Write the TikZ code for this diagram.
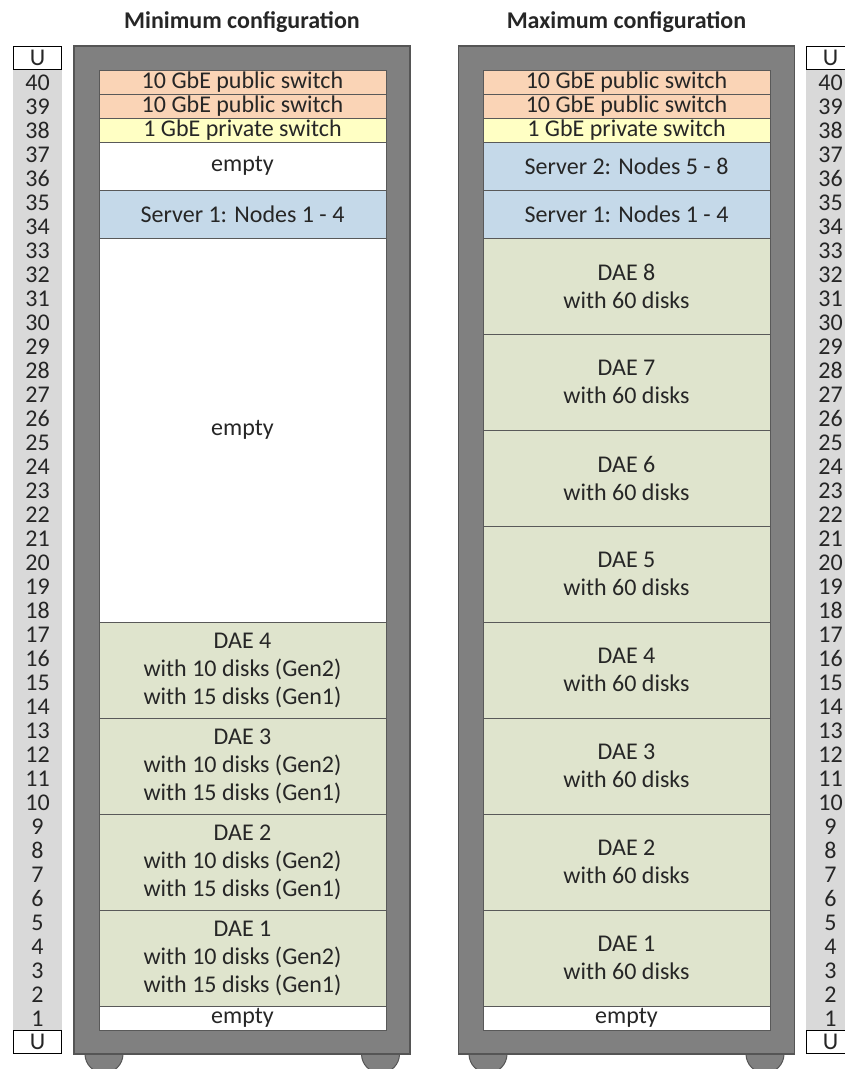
\documentclass[tikz,border=0pt]{standalone}
\usepackage{fontspec}
\setmainfont{Carlito}
\definecolor{txt}{HTML}{262626}
\definecolor{rackg}{HTML}{808080}
\definecolor{rackb}{HTML}{555555}
\definecolor{slotb}{HTML}{595959}
\definecolor{colg}{HTML}{D9D9D9}
\definecolor{swc}{HTML}{FAD4B6}
\definecolor{privc}{HTML}{FFFFC4}
\definecolor{srvc}{HTML}{C5D9E9}
\definecolor{daec}{HTML}{DFE4CD}
\begin{document}
\begin{tikzpicture}[x=1pt,y=-1pt,
  every node/.style={font=\fontsize{24}{28}\selectfont, text=txt, inner sep=0pt, outer sep=0pt},
  title/.style={font=\fontsize{24}{28}\selectfont\bfseries, text=txt},
  rack/.style={draw=rackb, fill=rackg, line width=1.5pt, minimum width=336pt, minimum height=1008pt},
  foot/.style={draw=rackb, fill=rackg, line width=1pt},
  slot/.style={draw=slotb, line width=1pt, minimum width=287pt, align=center},
  u1/.style={slot, minimum height=24pt},
  u2/.style={slot, minimum height=48pt},
  u4/.style={slot, minimum height=96pt},
  swbox/.style={fill=swc},
  privbox/.style={fill=privc},
  srvbox/.style={fill=srvc},
  daebox/.style={fill=daec},
  empbox/.style={fill=white},
  ucol/.style={fill=colg, minimum width=49pt, minimum height=960pt},
  ubox/.style={draw=black, fill=white, line width=1.5pt, minimum width=48pt, minimum height=23pt},
  unum/.style={text=txt}
]
\clip (0,0) rectangle (845,1069);
\useasboundingbox (0,0) rectangle (845,1069);

% titles
\node[title] (tmin) at (242,22) {Minimum configuration};
\node[title] (tmax) at (626.5,22) {Maximum configuration};

% U columns
\node[ucol] (lcol) at (37.5,550) {};
\node[ubox] (lutop) at (37.5,58) {U};
\node[ubox] (lubot) at (37.5,1042) {U};
\node[ucol] (rcol) at (830.5,550) {};
\node[ubox] (rutop) at (830.5,58) {U};
\node[ubox] (rubot) at (830.5,1042) {U};
\foreach \n in {1,...,40} {
  \node[unum] (ln\n) at (37.5,{70+(40-\n)*24+12.5}) {\n};
  \node[unum] (rn\n) at (830.5,{70+(40-\n)*24+12.5}) {\n};
}

% feet
\foreach \fx in {104,380.5,488,765} {
  \draw[foot] (\fx,1054) circle (19);
}

% racks
\node[rack] (lrack) at (242,550) {};
\node[rack] (rrack) at (626.5,550) {};

% left rack contents
\node[u1,swbox] (lsw1) at (242.5,82) {10 GbE public switch};
\node[u1,swbox] (lsw2) at (242.5,106) {10 GbE public switch};
\node[u1,privbox] (lpriv) at (242.5,130) {1 GbE private switch};
\node[u2,empbox] (lemp1) at (242.5,166) {empty};
\node[u2,srvbox] (lsrv1) at (242.5,214) {Server 1: Nodes 1 - 4};
\node[slot,empbox,minimum height=384pt] (lemp2) at (242.5,430) {empty};
\node[u4,daebox] (ldae4) at (242.5,670) {DAE 4\\with 10 disks (Gen2)\\with 15 disks (Gen1)};
\node[u4,daebox] (ldae3) at (242.5,766) {DAE 3\\with 10 disks (Gen2)\\with 15 disks (Gen1)};
\node[u4,daebox] (ldae2) at (242.5,862) {DAE 2\\with 10 disks (Gen2)\\with 15 disks (Gen1)};
\node[u4,daebox] (ldae1) at (242.5,958) {DAE 1\\with 10 disks (Gen2)\\with 15 disks (Gen1)};
\node[u1,empbox] (lemp3) at (242.5,1018) {empty};

% right rack contents
\node[u1,swbox] (rsw1) at (626.5,82) {10 GbE public switch};
\node[u1,swbox] (rsw2) at (626.5,106) {10 GbE public switch};
\node[u1,privbox] (rpriv) at (626.5,130) {1 GbE private switch};
\node[u2,srvbox] (rsrv2) at (626.5,166) {Server 2: Nodes 5 - 8};
\node[u2,srvbox] (rsrv1) at (626.5,214) {Server 1: Nodes 1 - 4};
\node[u4,daebox] (rdae8) at (626.5,286) {DAE 8\\with 60 disks};
\node[u4,daebox] (rdae7) at (626.5,382) {DAE 7\\with 60 disks};
\node[u4,daebox] (rdae6) at (626.5,478) {DAE 6\\with 60 disks};
\node[u4,daebox] (rdae5) at (626.5,574) {DAE 5\\with 60 disks};
\node[u4,daebox] (rdae4) at (626.5,670) {DAE 4\\with 60 disks};
\node[u4,daebox] (rdae3) at (626.5,766) {DAE 3\\with 60 disks};
\node[u4,daebox] (rdae2) at (626.5,862) {DAE 2\\with 60 disks};
\node[u4,daebox] (rdae1) at (626.5,958) {DAE 1\\with 60 disks};
\node[u1,empbox] (remp) at (626.5,1018) {empty};
\end{tikzpicture}
\end{document}
